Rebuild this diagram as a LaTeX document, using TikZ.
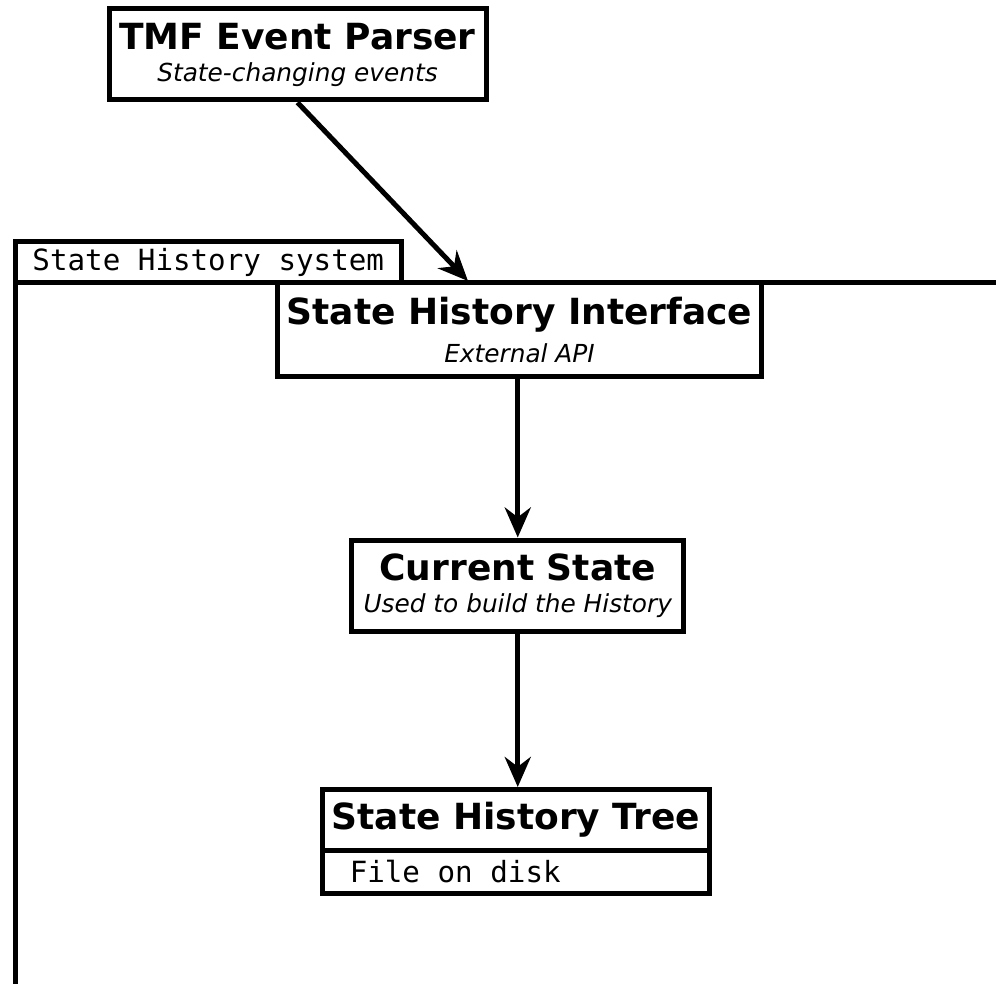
\documentclass[tikz,border=0pt]{standalone}
\usepackage{fontspec}
\setsansfont{DejaVu Sans}
\setmonofont{DejaVu Sans Mono}
\usetikzlibrary{arrows.meta,positioning}

\newcommand{\boxtitle}{\sffamily\bfseries\fontsize{18}{21}\selectfont}
\newcommand{\boxnote}{\sffamily\mdseries\itshape\fontsize{12.4}{15}\selectfont}
\newcommand{\boxmono}{\ttfamily\fontsize{14.6}{17}\selectfont}

\begin{document}
\begin{tikzpicture}[x=0.5pt, y=-0.5pt, >={Stealth[length=15pt, width=13pt]},
    block/.style={draw, line width=2.5pt, inner sep=0pt, align=center, font=\boxtitle},
    plain/.style={draw, line width=2.5pt, inner sep=0pt, align=left, font=\boxmono,
        execute at begin node={\spaceskip=0.602em\relax}},
    flow/.style={->, line width=2.5pt}]
    \useasboundingbox (0,0) rectangle (996,984);

    % container of the state history system (open to the right and bottom)
    \draw[line width=2.5pt] (15.5,1000) |- (1010,283);
    \node[plain, minimum width=192.75pt, minimum height=20.5pt] (systab) at (208.25,262.5) {State History system};

    % boxes
    \node[block, minimum width=188.5pt, minimum height=45.5pt] (parser) at (297.5,54.5)
        {TMF Event Parser\\[-5pt]{\boxnote State-changing events}};
    \node[block, minimum width=242pt, minimum height=46.75pt] (interface) at (519.5,329.75)
        {State History Interface\\[-2pt]{\boxnote External API}};
    \node[block, minimum width=166pt, minimum height=45.75pt] (current) at (517.75,585.75)
        {Current State\\[-5pt]{\boxnote Used to build the History}};
    \node[block, minimum width=193.75pt, minimum height=30.25pt] (treetitle) at (516,819.75) {State History Tree};
    \node[plain, below=-2.5pt of treetitle, minimum width=193.75pt, minimum height=21.75pt, inner xsep=13.75pt, text width=166.25pt] (treefile) {File on disk};

    % arrows
    \coordinate (apientry) at (468,281);
    \draw[flow] (parser.south) -- (apientry);
    \draw[flow] (current.north |- interface.south) -- (current.north);
    \draw[flow] (current.south) -- (treetitle.north -| current.south);
\end{tikzpicture}
\end{document}
